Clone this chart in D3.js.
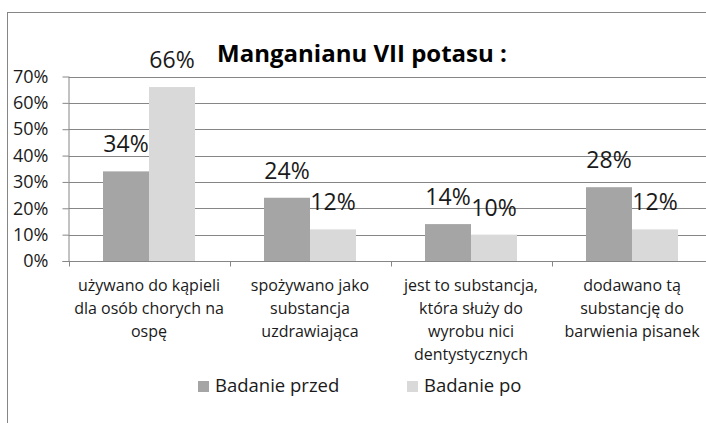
<!DOCTYPE html>
<html><head><meta charset="utf-8">
<script src="https://cdn.jsdelivr.net/npm/d3@7"></script>
<style>
html,body{margin:0;padding:0;background:#fff;}
svg{display:block;font-family:"Open Sans",sans-serif;}
</style></head>
<body>
<svg id="c" width="706" height="423"></svg>
<script>
const title = "Manganianu VII potasu :";
const categories = [
  ["używano do kąpieli","dla osób chorych na","ospę"],
  ["spożywano jako","substancja","uzdrawiająca"],
  ["jest to substancja,","która służy do","wyrobu nici","dentystycznych"],
  ["dodawano tą","substancję do","barwienia pisanek"]
];
const seriesNames = ["Badanie przed","Badanie po"];
const przed = [34,24,14,28];
const po = [66,12,10,12];
const yTicks = [0,10,20,30,40,50,60,70];
const colors = ["#a5a5a5","#d9d9d9"];

const svg = d3.select("#c");
// outer border (chart is cropped on right/bottom)
svg.append("rect").attr("x",7.5).attr("y",12.5).attr("width",740).attr("height",440)
  .attr("fill","none").attr("stroke","#868686").attr("stroke-width",1);

const x0 = 68.5, x1 = 712.5, yTop = 76.5, yBot = 261;
const x = d3.scaleBand().domain(d3.range(categories.length)).range([x0,x1]).paddingInner(0).paddingOuter(0);
const y = d3.scaleLinear().domain([0,70]).range([yBot,yTop]);
const xs = d3.scaleBand().domain([0,1]).range([0,x.bandwidth()]).paddingInner(0).paddingOuter(0.75);

// gridlines
svg.append("g").selectAll("line").data(yTicks.filter(d=>d>0)).join("line")
  .attr("x1",x0).attr("x2",x1).attr("y1",d=>Math.round(y(d))+0.5).attr("y2",d=>Math.round(y(d))+0.5)
  .attr("stroke","#868686").attr("stroke-width",1);

// bars
const data = categories.map((c,i)=>({i, vals:[przed[i],po[i]]}));
const g = svg.append("g").selectAll("g").data(data).join("g")
  .attr("transform",d=>`translate(${x(d.i)},0)`);
g.selectAll("rect").data(d=>d.vals.map((v,s)=>({v,s}))).join("rect")
  .attr("x",d=>xs(d.s)).attr("width",xs.bandwidth())
  .attr("y",d=>y(d.v)).attr("height",d=>yBot-y(d.v))
  .attr("fill",d=>colors[d.s]);
g.selectAll("text").data(d=>d.vals.map((v,s)=>({v,s}))).join("text")
  .attr("x",d=>xs(d.s)+xs.bandwidth()/2).attr("y",d=>y(d.v)-19)
  .attr("text-anchor","middle").attr("font-size",23).attr("fill","#1a1a1a")
  .text(d=>d.v+"%");

// y axis
const yAxis = d3.axisLeft(y).tickValues(yTicks).tickFormat(d=>d+"%").tickSize(6).tickPadding(14);
const ya = svg.append("g").attr("transform",`translate(${x0},0)`).call(yAxis);
ya.select(".domain").attr("stroke","#868686").attr("d",`M0.5,${yTop}V${yBot}`);
ya.selectAll(".tick line").attr("stroke","#868686");
ya.selectAll(".tick text").attr("font-size",18).attr("fill","#1a1a1a").attr("font-family","Open Sans");

// x axis
const xa = svg.append("g").attr("transform",`translate(0,${yBot+0.5})`);
xa.append("line").attr("x1",x0-6).attr("x2",x1).attr("stroke","#868686");
xa.selectAll("line.t").data(d3.range(categories.length+1)).join("line").attr("class","t")
  .attr("x1",d=>Math.round(x0+d*x.bandwidth())+0.5).attr("x2",d=>Math.round(x0+d*x.bandwidth())+0.5)
  .attr("y1",0).attr("y2",5).attr("stroke","#868686");
data.forEach(d=>{
  const t = svg.append("text").attr("text-anchor","middle").attr("font-size",16).attr("fill","#1a1a1a");
  categories[d.i].forEach((ln,k)=>{
    t.append("tspan").attr("x",x(d.i)+x.bandwidth()/2).attr("y",291+k*23).text(ln);
  });
});

// title
svg.append("text").attr("x",362).attr("y",62).attr("text-anchor","middle")
  .attr("font-size",24).attr("font-weight","bold").attr("fill","#000").text(title);

// legend
const legX = [198,407];
seriesNames.forEach((n,s)=>{
  svg.append("rect").attr("x",legX[s]).attr("y",381).attr("width",11).attr("height",11).attr("fill",colors[s]);
  svg.append("text").attr("x",legX[s]+17).attr("y",392).attr("font-size",18.5).attr("fill","#1a1a1a").text(n);
});
</script>
</body></html>
